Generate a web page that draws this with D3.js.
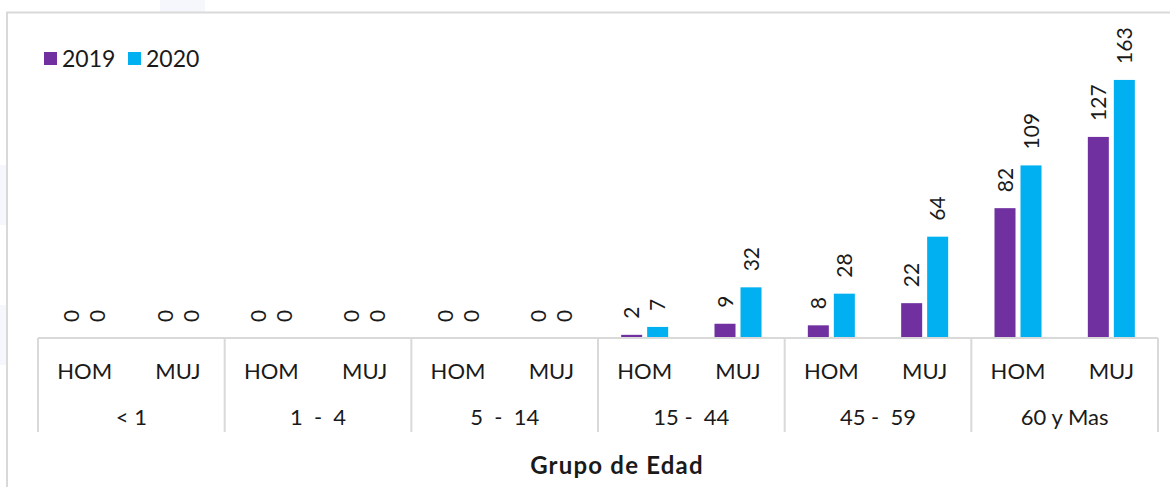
<!DOCTYPE html>
<html>
<head>
<meta charset="utf-8">
<script src="https://cdn.jsdelivr.net/npm/d3@7"></script>
<style>
  html, body { margin: 0; padding: 0; background: #fff; }
  svg { display: block; }
  text { font-family: Lato, "Noto Sans", sans-serif; fill: #1a1a1a; }
</style>
</head>
<body>
<svg id="chart" width="1170" height="487"></svg>
<script>
const groups = ["< 1", "1  -  4", "5  -  14", "15 -  44", "45 -  59", "60 y Mas"];
const sexes = ["HOM", "MUJ"];
const seriesNames = ["2019", "2020"];
const values2019 = [0, 0, 0, 0, 0, 0, 2, 9, 8, 22, 82, 127];
const values2020 = [0, 0, 0, 0, 0, 0, 7, 32, 28, 64, 109, 163];
const colors = ["#7030A0", "#00B0F0"];
const axisTitle = "Grupo de Edad";

const svg = d3.select("#chart");

// faint background artifacts
svg.append("rect").attr("x", 160).attr("y", 0).attr("width", 45).attr("height", 12).attr("fill", "#f6f7fc");
svg.append("rect").attr("x", 0).attr("y", 165).attr("width", 6).attr("height", 60).attr("fill", "#f6f7fc");
svg.append("rect").attr("x", 0).attr("y", 305).attr("width", 6).attr("height", 60).attr("fill", "#f6f7fc");

// chart frame
svg.append("rect").attr("x", 7).attr("y", 12.5).attr("width", 1200).attr("height", 520)
  .attr("fill", "#fff").attr("stroke", "#d9d9d9").attr("stroke-width", 2);

const slots = [];
groups.forEach((g, gi) => sexes.forEach((s, si) => slots.push({ key: gi + "-" + s, group: g, sex: s, i: gi * 2 + si })));

const x0 = d3.scaleBand().domain(slots.map(d => d.key)).range([38, 1158]).padding(0);
const slot = x0.bandwidth();
const x1 = d3.scaleBand().domain(seriesNames).range([slot * 0.2482, slot * 0.7518]).paddingInner(0.192);
const y = d3.scaleLinear().domain([0, 180]).range([338, 53]);

const data = [values2019, values2020];

const barG = svg.append("g");
slots.forEach((s, i) => {
  seriesNames.forEach((name, k) => {
    const v = data[k][i];
    const bx = x0(s.key) + x1(name);
    barG.append("rect")
      .attr("x", bx).attr("y", y(v))
      .attr("width", x1.bandwidth()).attr("height", y(0) - y(v))
      .attr("fill", colors[k]);
    barG.append("text")
      .attr("transform", `translate(${bx + x1.bandwidth() / 2},${y(v) - 16}) rotate(-90)`)
      .attr("dy", "0.36em")
      .attr("text-anchor", "start")
      .attr("font-size", 21)
      .text(v);
  });
});

// axis baseline
svg.append("line").attr("x1", 38).attr("x2", 1158).attr("y1", y(0)).attr("y2", y(0))
  .attr("stroke", "#d9d9d9").attr("stroke-width", 2);

// group dividers
const boundaries = d3.range(0, groups.length + 1).map(i => i === groups.length ? 1158 : x0(i + "-HOM"));
boundaries.forEach(bx => {
  svg.append("line").attr("x1", bx).attr("x2", bx).attr("y1", y(0)).attr("y2", 432)
    .attr("stroke", "#d9d9d9").attr("stroke-width", 2);
});

// sex labels
slots.forEach(s => {
  svg.append("text").attr("x", x0(s.key) + slot / 2).attr("y", 378.5)
    .attr("text-anchor", "middle").attr("font-size", 22).text(s.sex);
});
// group labels
groups.forEach((g, gi) => {
  svg.append("text").attr("x", x0(gi + "-HOM") + slot).attr("y", 424.5)
    .attr("text-anchor", "middle").attr("font-size", 22).attr("xml:space", "preserve")
    .style("white-space", "pre").text(g);
});

// axis title
svg.append("text").attr("x", 617).attr("y", 474)
  .attr("text-anchor", "middle").attr("font-size", 24).attr("font-weight", "bold")
  .attr("letter-spacing", 1.2)
  .attr("fill", "#262626").text(axisTitle);

// legend
const leg = svg.append("g");
const legX = [44, 128];
seriesNames.forEach((name, k) => {
  leg.append("rect").attr("x", legX[k]).attr("y", 52).attr("width", 13).attr("height", 13).attr("fill", colors[k]);
  leg.append("text").attr("x", legX[k] + 18).attr("y", 66.5).attr("font-size", 23).text(name);
});
</script>
</body>
</html>
